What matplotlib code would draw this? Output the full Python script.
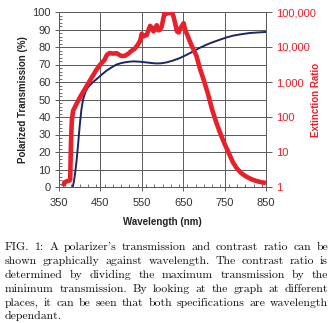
import matplotlib
matplotlib.use("Agg")
import matplotlib.pyplot as plt
from matplotlib.ticker import MultipleLocator, FixedLocator, NullFormatter

# Polarized transmission (%) versus wavelength (nm)
trans_wl = [383, 386, 389, 392, 396, 400, 404, 408, 414, 420, 430, 440, 452, 465,
            478, 489, 500, 513, 529, 545, 561, 575, 585, 597, 610, 626, 642, 658,
            674, 690, 706, 722, 739, 755, 771, 790, 811, 830, 850]
trans_pct = [0, 3, 8, 14, 24, 35, 44, 50, 54.5, 57, 59.5, 61.5, 64, 66.5,
             68.5, 70, 70.8, 71.4, 71.8, 71.6, 71.2, 70.8, 70.6, 70.7, 71.2, 72.3, 73.7, 75.5,
             77.5, 79.5, 81.3, 82.8, 84.2, 85.5, 86.5, 87.3, 88, 88.3, 88.6]

# Extinction ratio versus wavelength (nm)
ext_wl = [361, 363, 368, 374, 377, 379, 381, 384, 390, 400, 410, 420, 430, 440,
          450, 460, 466, 472, 480, 490, 497, 503, 510, 518, 525, 533, 540, 546,
          550, 553, 557, 562, 566, 570, 574, 578, 582, 586, 590, 594, 598, 602,
          605, 609, 612, 616, 620, 624, 627, 631, 635, 639, 643, 648, 651, 655,
          660, 670, 682, 690, 700, 710, 720, 730, 740, 750, 760, 770, 780, 790,
          800, 810, 820, 830, 840, 850]
ext_ratio = [1.05, 1.35, 1.45, 1.5, 1.6, 20, 80, 150, 210, 355, 560, 890, 1400, 2200,
             3200, 4300, 6000, 6700, 6500, 6600, 5800, 5500, 5700, 6500, 7800, 8900, 11500, 15000,
             24000, 20000, 21000, 22000, 30000, 40000, 36000, 28000, 32000, 42000, 30000, 31000, 38000, 65000,
             95000, 88000, 100000, 92000, 100000, 90000, 72000, 45000, 28000, 26000, 34000, 42000, 48000, 30000,
             22000, 11200, 5600, 2500, 1100, 450, 160, 70, 33, 17, 9.4, 5.1, 3.35, 2.5,
             2.06, 1.78, 1.58, 1.45, 1.36, 1.3]

x_ticks = [350, 450, 550, 650, 750, 850]
left_ticks = list(range(0, 101, 10))
right_ticks = [1, 10, 100, 1000, 10000, 100000]
right_labels = ["1", "10", "100", "1,000", "10,000", "100,000"]

caption_lines = [
    "FIG. 1: A polarizer's transmission and contrast ratio can be",
    "shown graphically against wavelength. The contrast ratio is",
    "determined by dividing the maximum transmission by the",
    "minimum transmission. By looking at the graph at different",
    "places, it can be seen that both specifications are wavelength",
    "dependant.",
]

RED = "#e8202a"
NAVY = "#1c2566"
GRID = "#5a5a5a"
plt.rcParams["font.family"] = ["Liberation Sans", "DejaVu Sans"]

W, H = 334, 323
fig = plt.figure(figsize=(W / 100, H / 100), dpi=100)
ax = fig.add_axes([59 / W, 1 - 187 / H, 207 / W, 175 / H])

ax.plot(trans_wl, trans_pct, color=NAVY, lw=1.4, zorder=3)
ax.set_xlim(350, 850)
ax.set_ylim(0, 100)
ax.xaxis.set_major_locator(FixedLocator(x_ticks))
ax.xaxis.set_minor_locator(MultipleLocator(20))
ax.yaxis.set_major_locator(FixedLocator(left_ticks))
ax.yaxis.set_minor_locator(MultipleLocator(2))
ax.grid(True, which="major", color=GRID, lw=0.7)
ax.tick_params(which="major", direction="out", length=3, width=0.7, color=GRID,
               labelsize=8, labelcolor="#333333")
ax.tick_params(axis="x", which="major", pad=5)
ax.tick_params(axis="y", which="major", pad=3)
ax.tick_params(which="minor", direction="in", length=2.5, width=0.6, color=GRID)
for s in ax.spines.values():
    s.set_color(GRID)
    s.set_linewidth(0.7)
ax.set_xlabel("Wavelength (nm)", fontsize=7, fontweight="bold", color="#222222")
ax.set_ylabel("Polarized Transmission (%)", fontsize=7, fontweight="bold", color="#222222")
ax.xaxis.set_label_coords(0.5, -0.17)
ax.yaxis.set_label_coords(-0.15, 0.5)

ax2 = ax.twinx()
ax2.set_yscale("log")
ax2.set_ylim(1, 100000)
ax2.plot(ext_wl, ext_ratio, color=RED, lw=3.3, solid_capstyle="butt",
         solid_joinstyle="round", zorder=4)
ax2.yaxis.set_major_locator(FixedLocator(right_ticks))
ax2.set_yticklabels(right_labels)
ax2.yaxis.set_minor_formatter(NullFormatter())
ax2.tick_params(axis="y", which="minor", length=0)
ax2.tick_params(axis="y", which="major", direction="out", length=4, width=0.7,
                color=GRID, labelsize=8, labelcolor=RED, pad=3)
for s in ax2.spines.values():
    s.set_color(GRID)
    s.set_linewidth(0.7)
ax2.set_ylabel("Extinction Ratio", fontsize=7, fontweight="bold", color=RED,
               rotation=90)
ax2.yaxis.set_label_coords(1.217, 0.5)

# Justified caption, laid out word by word
renderer = fig.canvas.get_renderer()
cap_font = dict(family=["cmr10", "DejaVu Serif"], fontsize=8.5, color="#111111")
x_left, x_right = 5 / W, 328 / W
line_y = [247.3, 261.4, 275.5, 289.6, 303.7, 316.5]
for i, line in enumerate(caption_lines):
    words = line.split(" ")
    y = 1 - (line_y[i] + 2.5) / H
    texts = [fig.text(0, y, w_, va="baseline", ha="left", **cap_font) for w_ in words]
    widths = [t.get_window_extent(renderer).width / W for t in texts]
    if i < len(caption_lines) - 1:
        gap = (x_right - x_left - sum(widths)) / (len(words) - 1)
    else:
        space = fig.text(0, 0, "a a", **cap_font)
        aa = fig.text(0, 0, "aa", **cap_font)
        gap = (space.get_window_extent(renderer).width - aa.get_window_extent(renderer).width) / W
        space.remove()
        aa.remove()
    x = x_left
    for t, w_ in zip(texts, widths):
        t.set_x(x)
        x += w_ + gap

fig.savefig("out.png", dpi=100)
